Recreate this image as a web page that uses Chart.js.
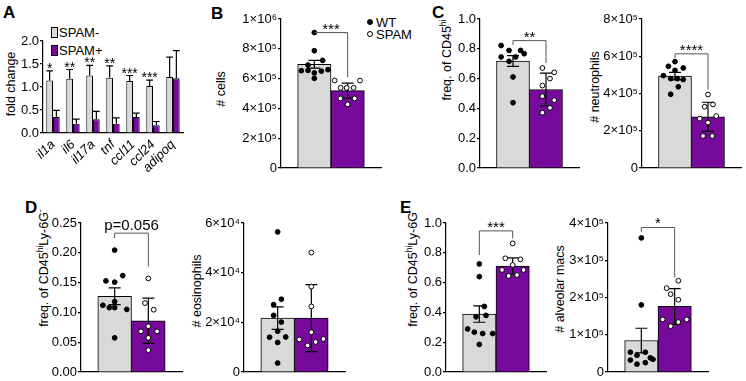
<!DOCTYPE html>
<html>
<head>
<meta charset="utf-8">
<script src="https://cdn.jsdelivr.net/npm/chart.js@4.4.1/dist/chart.umd.min.js"></script>
<style>
  body { margin: 0; background: #fff; }
  #fig { position: relative; width: 746px; height: 381px; overflow: hidden; font-family: 'Liberation Sans', Arial, sans-serif; color: #000; background: #fff; }
  #fig canvas { position: absolute; }
  .letter { position: absolute; font-weight: bold; font-size: 17px; line-height: 17px; }
  .txt { position: absolute; white-space: nowrap; font-size: 13px; line-height: 13px; }
  .ytitle { position: absolute; white-space: nowrap; font-size: 12.5px; line-height: 13px; transform: translate(-50%, -50%) rotate(-90deg); }
  .ytitle sup { font-size: 8.5px; line-height: 0; vertical-align: 5px; }
  .box { position: absolute; width: 5px; height: 9px; border: 1px solid #000; }
  .dot { position: absolute; width: 4px; height: 4px; border: 1px solid #000; border-radius: 50%; }
</style>
</head>
<body>
<div id="fig">
  <div class="letter" style="left:3px;top:4px">A</div>
  <div class="letter" style="left:211px;top:5px">B</div>
  <div class="letter" style="left:432px;top:4px">C</div>
  <div class="letter" style="left:25px;top:199px">D</div>
  <div class="letter" style="left:400px;top:199px">E</div>

  <div class="box" style="left:51px;top:27px;background:#d9d9d9"></div>
  <div class="txt" style="left:59px;top:26px">SPAM-</div>
  <div class="box" style="left:51px;top:45px;background:#770a9c"></div>
  <div class="txt" style="left:59px;top:44px">SPAM+</div>

  <div class="dot" style="left:367px;top:19px;background:#000"></div>
  <div class="txt" style="left:376px;top:16px">WT</div>
  <div class="dot" style="left:367px;top:31px;background:#fff"></div>
  <div class="txt" style="left:376px;top:28px">SPAM</div>

  <div class="ytitle" style="left:11px;top:84px">fold change</div>
  <div class="ytitle" style="left:221px;top:89px"># cells</div>
  <div class="ytitle" style="left:447px;top:60px">freq. of CD45<sup>hi</sup></div>
  <div class="ytitle" style="left:595px;top:87px"># neutrophils</div>
  <div class="ytitle" style="left:44px;top:268px">freq. of CD45<sup>hi</sup>Ly-6G<sup>-</sup></div>
  <div class="ytitle" style="left:197px;top:291px"># eosinophils</div>
  <div class="ytitle" style="left:413px;top:268px">freq. of CD45<sup>hi</sup>Ly-6G<sup>-</sup></div>
  <div class="ytitle" style="left:560px;top:289px"># alveolar macs</div>
</div>
<script>
const GRAY = '#d9d9d9';
const PURPLE = '#770a9c';

// A: fold change per gene
const genes = ['il1a', 'il6', 'il17a', 'tnf', 'ccl11', 'ccl24', 'adipoq'];
const spamNeg = [1.14, 1.18, 1.25, 1.20, 1.13, 1.02, 1.22];
const spamNegErr = [0.21, 0.20, 0.22, 0.26, 0.12, 0.13, 0.43];
const spamPos = [0.35, 0.20, 0.30, 0.20, 0.35, 0.17, 1.19];
const spamPosErr = [0.14, 0.10, 0.17, 0.13, 0.08, 0.08, 0.60];
const geneStars = ['*', '**', '**', '**', '***', '***', ''];
const foldTicks = ['0.0', '0.5', '1.0', '1.5', '2.0'];

// B: # cells
const cellsMean = [6.96e5, 5.19e5];
const cellsErr = [0.26e5, 0.5e5];
const cellsWT = [9.09e5, 7.87e5, 7.22e5, 6.91e5, 6.53e5, 6.55e5, 6.5e5, 6.6e5, 6.38e5, 6.02e5];
const cellsWTJit = [0, 0, 0.25, -0.19, -0.39, -0.19, 0.21, 0.41, 0, 0];
const cellsSPAM = [5.87e5, 5.87e5, 5.38e5, 5.38e5, 5.38e5, 4.67e5, 4.67e5, 4.27e5];
const cellsSPAMJit = [-0.39, 0.37, -0.21, -0.03, 0.18, -0.22, 0.21, 0];
const cellsBracket = [9.09e5, 9.09e5, 6.1e5];
const cellsTicks = ['0', '2×10⁵', '4×10⁵', '6×10⁵', '8×10⁵', '1×10⁶'];

// C: freq. of CD45hi
const freqMean = [0.718, 0.527];
const freqErr = [0.036, 0.11];
const freqWT = [0.822, 0.789, 0.789, 0.767, 0.745, 0.745, 0.716, 0.611, 0.438];
const freqWTJit = [-0.36, -0.12, 0.23, 0.34, -0.36, 0.08, -0.12, 0, 0];
const freqSPAM = [0.671, 0.642, 0.6, 0.553, 0.482, 0.455, 0.404, 0.371];
const freqSPAMJit = [-0.11, 0.25, 0.12, -0.11, -0.11, 0.25, 0.12, -0.11];
const freqBracket = [0.855, 0.827, 0.705];
const freqTicks = ['0.0', '0.2', '0.4', '0.6', '0.8', '1.0'];

// C: # neutrophils
const neutMean = [4.93e5, 2.75e5];
const neutErr = [0.2e5, 0.78e5];
const neutWT = [5.71e5, 5.46e5, 5.37e5, 5.24e5, 4.96e5, 4.8e5, 4.8e5, 4.75e5, 4.36e5, 3.96e5];
const neutWTJit = [0, -0.2, 0.25, 0, -0.35, -0.13, 0.07, 0.25, 0.1, -0.13];
const neutSPAM = [3.95e5, 3.29e5, 3.41e5, 2.79e5, 2.65e5, 2.44e5, 1.72e5, 1.72e5];
const neutSPAMJit = [0, -0.1, 0.15, 0.25, -0.25, 0, -0.15, 0.13];
const neutBracket = [6.13e5, 5.9e5, 4.21e5];
const neutTicks = ['0', '2×10⁵', '4×10⁵', '6×10⁵', '8×10⁵'];

// D: freq. of CD45hi Ly-6G-
const eosFreqMean = [0.127, 0.086];
const eosFreqErr = [0.014, 0.038];
const eosFreqWT = [0.2045, 0.1617, 0.1528, 0.1507, 0.118, 0.112, 0.108, 0.108, 0.105, 0.0573];
const eosFreqWTJit = [0, 0.24, -0.26, 0, 0, -0.35, -0.16, 0, 0.36, 0];
const eosFreqSPAM = [0.157, 0.1157, 0.1045, 0.0767, 0.0683, 0.0683, 0.0573, 0.0367];
const eosFreqSPAMJit = [0, -0.1, 0.16, 0, -0.22, 0.26, 0, 0];
const eosFreqBracket = [0.233, 0.2245, 0.177];
const eosFreqTicks = ['0.00', '0.05', '0.10', '0.15', '0.20', '0.25'];

// D: # eosinophils
const eosMean = [2.17e4, 2.17e4];
const eosErr = [0.45e4, 1.35e4];
const eosWT = [5.64e4, 2.93e4, 2.71e4, 2.28e4, 2.01e4, 1.64e4, 1.40e4, 1.41e4, 1.19e4, 0.36e4];
const eosWTJit = [0, 0.11, -0.12, -0.12, 0.11, 0, -0.24, 0.24, 0, 0];
const eosSPAM = [4.81e4, 3.44e4, 2.64e4, 1.60e4, 1.31e4, 1.33e4, 1.21e4, 1.07e4];
const eosSPAMJit = [0, 0, 0, 0, -0.36, 0.36, 0.13, -0.11];
const eosTicks = ['0', '2×10⁴', '4×10⁴', '6×10⁴'];

// E: freq. of CD45hi Ly-6G- (alveolar macs)
const amFreqMean = [0.389, 0.711];
const amFreqErr = [0.055, 0.055];
const amFreqWT = [0.725, 0.64, 0.44, 0.38, 0.37, 0.289, 0.267, 0.258, 0.258, 0.185];
const amFreqWTJit = [0, 0, 0.15, 0.2, -0.1, -0.35, -0.15, 0.1, 0.4, 0];
const amFreqSPAM = [0.863, 0.763, 0.756, 0.718, 0.685, 0.685, 0.645, 0.651];
const amFreqSPAMJit = [0, -0.22, 0.23, 0, -0.32, 0.33, -0.12, 0.13];
const amFreqBracket = [0.947, 0.785, 0.896];
const amFreqTicks = ['0.0', '0.2', '0.4', '0.6', '0.8', '1.0'];

// E: # alveolar macs
const amMean = [0.845e5, 1.76e5];
const amErr = [0.33e5, 0.48e5];
const amWT = [3.6e5, 1.8e5, 0.53e5, 0.45e5, 0.53e5, 0.38e5, 0.34e5, 0.32e5, 0.21e5, 0.25e5];
const amWTJit = [0, 0, -0.33, -0.13, 0.12, 0.27, 0.35, -0.33, -0.13, 0.12];
const amSPAM = [2.45e5, 2.25e5, 2.09e5, 1.94e5, 1.41e5, 1.23e5, 1.34e5, 1.41e5];
const amSPAMJit = [0.11, -0.24, -0.12, 0.11, -0.36, -0.12, 0.11, 0.36];
const amBracket = [3.88e5, 3.76e5, 2.54e5];
const amTicks = ['0', '1×10⁵', '2×10⁵', '3×10⁵', '4×10⁵'];

Chart.defaults.font.family = "'Liberation Sans', Arial, sans-serif";
Chart.defaults.font.size = 13;
Chart.defaults.color = '#000';
Chart.defaults.animation = false;

const FONT = "'Liberation Sans', Arial, sans-serif";

// error bars, stars and significance brackets
const decor = {
  id: 'decor',
  afterDatasetDraw(chart, args, opts) {
    const ds = chart.data.datasets[args.index];
    if (!ds.errorBars) return;
    const ctx = chart.ctx;
    const ys = chart.scales.y;
    ctx.save();
    ctx.strokeStyle = '#000';
    ctx.lineWidth = 1.2;
    args.meta.data.forEach((bar, i) => {
      const raw = ds.data[i];
      const v = typeof raw === 'object' ? raw.y : raw;
      const e = ds.errorBars[i];
      const top = ys.getPixelForValue(v + e);
      const bot = opts.bothWays ? ys.getPixelForValue(v - e) : bar.y;
      const half = opts.cap ? opts.cap / 2 : bar.width / 2;
      ctx.beginPath();
      ctx.moveTo(bar.x, bot);
      ctx.lineTo(bar.x, top);
      ctx.moveTo(bar.x - half, top);
      ctx.lineTo(bar.x + half, top);
      if (opts.bothWays) {
        ctx.moveTo(bar.x - half, bot);
        ctx.lineTo(bar.x + half, bot);
      }
      ctx.stroke();
    });
    ctx.restore();
  },
  afterDraw(chart, args, opts) {
    const ctx = chart.ctx;
    const xs = chart.scales.x;
    const ys = chart.scales.y;
    ctx.save();
    ctx.fillStyle = '#000';
    ctx.textAlign = 'center';
    ctx.textBaseline = 'alphabetic';
    if (opts.stars) {
      const ds = chart.data.datasets[0];
      const meta = chart.getDatasetMeta(0);
      ctx.font = '14px ' + FONT;
      opts.stars.forEach((s, i) => {
        const top = ys.getPixelForValue(ds.data[i] + ds.errorBars[i]);
        ctx.fillText(s, meta.data[i].x, top + 2);
      });
    }
    if (opts.bracket) {
      const [yb, yl, yr] = opts.bracket.map(v => ys.getPixelForValue(v));
      const xl = xs.getPixelForValue(0);
      const xr = xs.getPixelForValue(1);
      ctx.strokeStyle = '#555';
      ctx.lineWidth = 1;
      ctx.beginPath();
      ctx.moveTo(xl, yl);
      ctx.lineTo(xl, yb);
      ctx.lineTo(xr, yb);
      ctx.lineTo(xr, yr);
      ctx.stroke();
      ctx.font = '15px ' + FONT;
      const isStars = opts.bracketLabel.startsWith('*');
      ctx.fillText(opts.bracketLabel, (xl + xr) / 2, yb + (isStars ? 1 : -3));
    }
    ctx.restore();
  }
};

const fig = document.getElementById('fig');

function place(geo, config) {
  const padTop = geo.padTop;
  const padRight = 4;
  const left = geo.x0 - geo.wy;
  const top = geo.yTop - padTop;
  const cv = document.createElement('canvas');
  cv.width = geo.x1 + padRight - left;
  cv.height = geo.yBot + geo.hx - top;
  cv.style.left = left + 'px';
  cv.style.top = top + 'px';
  fig.appendChild(cv);
  config.options.responsive = false;
  config.options.events = [];
  config.options.layout = { padding: { top: padTop, right: padRight, left: 0, bottom: 0 } };
  config.options.scales.x.afterFit = s => { s.height = geo.hx; s.paddingLeft = 0; s.paddingRight = 0; };
  config.options.scales.y.afterFit = s => { s.width = geo.wy; s.paddingTop = 0; s.paddingBottom = 0; };
  config.plugins = [decor];
  return new Chart(cv, config);
}

function yAxis(max, step, labels) {
  return {
    min: 0,
    max: max,
    ticks: { stepSize: step, padding: 1, autoSkip: false, callback: (v, i) => labels[i] },
    grid: { drawOnChartArea: false, drawTicks: true, tickLength: 3, color: '#000', lineWidth: 1.2 },
    border: { color: '#000', width: 1.2 }
  };
}

// A
place({ x0: 43, x1: 183, yTop: 41, yBot: 133, wy: 30, hx: 50, padTop: 12 }, {
  type: 'bar',
  data: {
    labels: genes,
    datasets: [
      { label: 'SPAM-', data: spamNeg, errorBars: spamNegErr, backgroundColor: GRAY, borderColor: '#000', borderWidth: 1, categoryPercentage: 0.67, barPercentage: 1 },
      { label: 'SPAM+', data: spamPos, errorBars: spamPosErr, backgroundColor: PURPLE, borderColor: '#000', borderWidth: 1, categoryPercentage: 0.67, barPercentage: 1 }
    ]
  },
  options: {
    scales: {
      x: {
        grid: { display: false, drawTicks: false },
        border: { color: '#000', width: 1.2 },
        ticks: { minRotation: 45, maxRotation: 45, autoSkip: false, padding: 4, font: { style: 'italic', size: 13 } }
      },
      y: yAxis(2, 0.5, foldTicks)
    },
    plugins: { legend: { display: false }, tooltip: { enabled: false }, decor: { bothWays: false, stars: geneStars } }
  }
});

function groupPanel(geo, p) {
  return place(geo, {
    type: 'bar',
    data: {
      datasets: [
        { type: 'bar', data: p.mean.map((m, i) => ({ x: i, y: m })), errorBars: p.err, backgroundColor: [GRAY, PURPLE], borderColor: '#000', borderWidth: 1, barPercentage: 1, categoryPercentage: 1, order: 2 },
        { type: 'scatter', data: p.wt.map((v, i) => ({ x: 0 + p.wtJit[i], y: v })), pointRadius: 2.4, pointBackgroundColor: '#000', pointBorderColor: '#000', pointBorderWidth: 1, order: 1 },
        { type: 'scatter', data: p.spam.map((v, i) => ({ x: 1 + p.spamJit[i], y: v })), pointRadius: 2.4, pointBackgroundColor: '#fff', pointBorderColor: '#000', pointBorderWidth: 1, order: 1 }
      ]
    },
    options: {
      scales: {
        x: { type: 'linear', min: -1, max: 2, offset: false, ticks: { display: false, stepSize: 1 }, grid: { display: false, drawTicks: false }, border: { color: '#000', width: 1.2 } },
        y: yAxis(p.max, p.step, p.ticks)
      },
      plugins: {
        legend: { display: false },
        tooltip: { enabled: false },
        decor: { bothWays: true, cap: 12, bracket: p.bracket, bracketLabel: p.label }
      }
    }
  });
}

groupPanel({ x0: 281, x1: 382, yTop: 19, yBot: 169, wy: 40, hx: 4, padTop: 14 },
  { mean: cellsMean, err: cellsErr, wt: cellsWT, wtJit: cellsWTJit, spam: cellsSPAM, spamJit: cellsSPAMJit,
    max: 1e6, step: 2e5, ticks: cellsTicks, bracket: cellsBracket, label: '***' });

groupPanel({ x0: 480, x1: 580, yTop: 19, yBot: 169, wy: 40, hx: 4, padTop: 14 },
  { mean: freqMean, err: freqErr, wt: freqWT, wtJit: freqWTJit, spam: freqSPAM, spamJit: freqSPAMJit,
    max: 1, step: 0.2, ticks: freqTicks, bracket: freqBracket, label: '**' });

groupPanel({ x0: 642, x1: 742, yTop: 19, yBot: 169, wy: 40, hx: 4, padTop: 14 },
  { mean: neutMean, err: neutErr, wt: neutWT, wtJit: neutWTJit, spam: neutSPAM, spamJit: neutSPAMJit,
    max: 8e5, step: 2e5, ticks: neutTicks, bracket: neutBracket, label: '****' });

groupPanel({ x0: 81, x1: 183, yTop: 223, yBot: 373, wy: 40, hx: 4, padTop: 14 },
  { mean: eosFreqMean, err: eosFreqErr, wt: eosFreqWT, wtJit: eosFreqWTJit, spam: eosFreqSPAM, spamJit: eosFreqSPAMJit,
    max: 0.25, step: 0.05, ticks: eosFreqTicks, bracket: eosFreqBracket, label: 'p=0.056' });

groupPanel({ x0: 244, x1: 346, yTop: 223, yBot: 373, wy: 40, hx: 4, padTop: 14 },
  { mean: eosMean, err: eosErr, wt: eosWT, wtJit: eosWTJit, spam: eosSPAM, spamJit: eosSPAMJit,
    max: 6e4, step: 2e4, ticks: eosTicks, bracket: null, label: '' });

groupPanel({ x0: 446, x1: 547, yTop: 223, yBot: 373, wy: 40, hx: 4, padTop: 14 },
  { mean: amFreqMean, err: amFreqErr, wt: amFreqWT, wtJit: amFreqWTJit, spam: amFreqSPAM, spamJit: amFreqSPAMJit,
    max: 1, step: 0.2, ticks: amFreqTicks, bracket: amFreqBracket, label: '***' });

groupPanel({ x0: 608, x1: 709, yTop: 223, yBot: 373, wy: 40, hx: 4, padTop: 14 },
  { mean: amMean, err: amErr, wt: amWT, wtJit: amWTJit, spam: amSPAM, spamJit: amSPAMJit,
    max: 4e5, step: 1e5, ticks: amTicks, bracket: amBracket, label: '*' });
</script>
</body>
</html>
